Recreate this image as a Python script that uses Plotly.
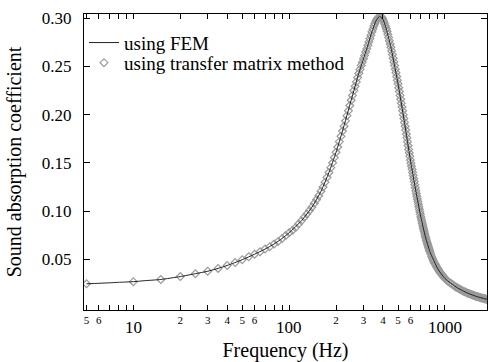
import math
import plotly.graph_objects as go

# FEM curve
fem_freq = [5, 6, 7, 8, 10, 12, 15, 20, 25, 30, 35, 40, 50, 60, 70, 80, 90, 100,
            120, 140, 160, 180, 200, 220, 250, 280, 300, 320, 340, 360, 380, 400,
            420, 450, 480, 500, 550, 600, 650, 700, 750, 800, 900, 1000, 1200,
            1400, 1600, 1800, 1900]
fem_alpha = [0.0245, 0.025, 0.0255, 0.026, 0.0267, 0.0278, 0.029, 0.032, 0.035,
             0.0375, 0.0405, 0.0435, 0.0495, 0.0552, 0.0605, 0.0658, 0.0715, 0.0775,
             0.090, 0.104, 0.1205, 0.140, 0.161, 0.183, 0.215, 0.243, 0.258, 0.272,
             0.286, 0.297, 0.302, 0.299, 0.289, 0.270, 0.247, 0.232, 0.192, 0.153,
             0.121, 0.094, 0.073, 0.058, 0.040, 0.030, 0.0204, 0.0148, 0.0113,
             0.009, 0.0081]

# Transfer matrix method points
tmm_freq = [
    5, 10, 15, 20, 25, 30, 35, 40, 45, 50, 55, 60, 65, 70, 75, 80, 85, 90, 95,
    100, 105, 110, 115, 120, 125, 130, 135, 140, 145, 150, 155, 160, 165, 170, 175,
    180, 185, 190, 195, 200, 205, 210, 215, 220, 225, 230, 235, 240, 245, 250,
    255, 260, 265, 270, 275, 280, 285, 290, 295, 300, 305, 310, 315, 320, 325,
    330, 335, 340, 345, 350, 355, 360, 365, 370, 375, 380, 385, 390, 395,
    400, 405, 410, 415, 420, 425, 430, 435, 440, 445, 450, 455, 460, 465, 470, 475,
    480, 485, 490, 495, 500, 505, 510, 515, 520, 525, 530, 535, 540, 545, 550,
    555, 560, 565, 570, 575, 580, 585, 590, 595, 600, 605, 610, 615, 620, 625,
    630, 635, 640, 645, 650, 655, 660, 665, 670, 675, 680, 685, 690, 695, 700,
    705, 710, 715, 720, 725, 730, 735, 740, 745, 750, 755, 760, 765, 770, 775,
    780, 785, 790, 795, 800, 810, 820, 830, 840, 850, 860, 870, 880, 890, 900,
    910, 920, 930, 940, 950, 960, 970, 980, 990, 1000,
    1025, 1050, 1075, 1100, 1125, 1150, 1175, 1200, 1225, 1250, 1275, 1300,
    1325, 1350, 1375, 1400, 1425, 1450, 1475, 1500, 1525, 1550, 1575, 1600,
    1625, 1650, 1675, 1700, 1725, 1750, 1775, 1800, 1825, 1850, 1875, 1900]
tmm_alpha = [
    0.0245, 0.0267, 0.029, 0.032, 0.035, 0.0375, 0.0405, 0.0435, 0.0465, 0.0495,
    0.0525, 0.0552, 0.0578, 0.0605, 0.063, 0.0658, 0.0685, 0.0715, 0.0745,
    0.0775, 0.080, 0.083, 0.0865, 0.090, 0.0935, 0.097, 0.1005, 0.104, 0.108,
    0.112, 0.116, 0.1205, 0.125, 0.130, 0.135, 0.140, 0.145, 0.150, 0.1555,
    0.161, 0.1665, 0.172, 0.1775, 0.183, 0.188, 0.1935, 0.199, 0.204, 0.2095,
    0.215, 0.220, 0.225, 0.2295, 0.234, 0.2385, 0.243, 0.247, 0.251, 0.2545,
    0.258, 0.2615, 0.265, 0.2685, 0.272, 0.2755, 0.279, 0.2825, 0.286, 0.289,
    0.292, 0.2945, 0.297, 0.2988, 0.300, 0.3012, 0.302, 0.3022, 0.3015, 0.3005,
    0.299, 0.2968, 0.2944, 0.2918, 0.2892, 0.2865, 0.2834, 0.2802, 0.2768, 0.2734,
    0.270, 0.2662, 0.2624, 0.2586, 0.2548, 0.251, 0.2472, 0.2434, 0.2396, 0.2358,
    0.232, 0.228, 0.224, 0.220, 0.216, 0.212, 0.208, 0.204, 0.200, 0.196,
    0.192, 0.188, 0.184, 0.180, 0.176, 0.172, 0.168, 0.164, 0.1605, 0.1568,
    0.153, 0.1497, 0.1465, 0.1433, 0.1401, 0.137, 0.1338, 0.1306, 0.1274, 0.1242,
    0.121, 0.1182, 0.1154, 0.1126, 0.1098, 0.107, 0.1044, 0.1018, 0.0992, 0.0966,
    0.094, 0.0918, 0.0896, 0.0874, 0.0852, 0.083, 0.081, 0.079, 0.077, 0.075,
    0.073, 0.0714, 0.0698, 0.0682, 0.0666, 0.065, 0.0636, 0.0622, 0.0608, 0.0594,
    0.058, 0.0556, 0.0532, 0.051, 0.049, 0.047, 0.0456, 0.0442, 0.0428, 0.0414,
    0.040, 0.0388, 0.0376, 0.0364, 0.0354, 0.0345, 0.0335, 0.0326, 0.0317, 0.0308,
    0.030, 0.0285, 0.027, 0.0257, 0.0245, 0.0234, 0.0223, 0.0213, 0.0204, 0.0195,
    0.0187, 0.018, 0.0173, 0.0166, 0.016, 0.0154, 0.0148, 0.0143, 0.0138, 0.0133,
    0.0129, 0.0125, 0.0121, 0.0117, 0.0113, 0.011, 0.0107, 0.0104, 0.0101, 0.0098,
    0.0095, 0.0092, 0.009, 0.0087, 0.0085, 0.0083, 0.0081]

x_tickvals = [5, 6, 7, 8, 9, 10, 20, 30, 40, 50, 60, 70, 80, 90, 100,
              200, 300, 400, 500, 600, 700, 800, 900, 1000]
x_ticktext = ["5", "6", "", "", "", "", "2", "3", "4", "5", "6", "", "", "", "",
              "2", "3", "4", "5", "6", "", "", "", ""]
x_major = [10, 100, 1000]
y_tickvals = [0.05, 0.10, 0.15, 0.20, 0.25, 0.30]
y_ticktext = ["0.05", "0.10", "0.15", "0.20", "0.25", "0.30"]

FONT = "Liberation Serif, Times New Roman, serif"

fig = go.Figure()
fig.add_trace(go.Scatter(
    x=tmm_freq, y=tmm_alpha, mode="markers", name="using transfer matrix method",
    legend="legend2",
    marker=dict(symbol="diamond-open", size=6, color="#9a9a9a", line=dict(width=1.2))))
fig.add_trace(go.Scatter(
    x=fem_freq, y=fem_alpha, mode="lines", name="using FEM", legend="legend",
    line=dict(color="#222222", width=1, shape="spline", smoothing=0.6)))

for v in x_major:
    fig.add_annotation(x=math.log10(v), y=-0.06, xref="x", yref="paper",
                       text=str(v), showarrow=False, yanchor="middle",
                       font=dict(family=FONT, size=17, color="black"))

leg_common = dict(xanchor="left", yanchor="middle", bgcolor="rgba(0,0,0,0)",
                  font=dict(family=FONT, size=19), itemwidth=30, borderwidth=0)

fig.update_layout(
    width=488, height=362,
    margin=dict(l=84, r=1, t=14, b=52),
    paper_bgcolor="white", plot_bgcolor="white",
    font=dict(family=FONT, color="black"),
    showlegend=True,
    legend=dict(x=0.0, y=0.903, **leg_common),
    legend2=dict(x=0.0, y=0.835, **leg_common),
    xaxis=dict(type="log", range=[0.683, 3.27], tickvals=x_tickvals, ticktext=x_ticktext,
               ticks="inside", ticklen=5, tickcolor="black", showgrid=False, zeroline=False,
               showline=True, linecolor="black", linewidth=1, mirror="ticks",
               automargin=False,
               tickfont=dict(family=FONT, size=11),
               title=dict(text="Frequency (Hz)", font=dict(family=FONT, size=20), standoff=20)),
    yaxis=dict(range=[-0.0027, 0.3045], tickvals=y_tickvals, ticktext=y_ticktext,
               ticks="inside", ticklen=6, tickcolor="black", showgrid=False, zeroline=False,
               showline=True, linecolor="black", linewidth=1, mirror="ticks",
               automargin=False,
               tickfont=dict(family=FONT, size=17), ticklabelstandoff=8,
               title=dict(text="Sound absorption coefficient", font=dict(family=FONT, size=20),
                          standoff=14)),
)

fig.write_html("out.html", config={"displayModeBar": False},
               post_script="document.body.style.margin='0px';document.body.style.overflow='hidden';")
